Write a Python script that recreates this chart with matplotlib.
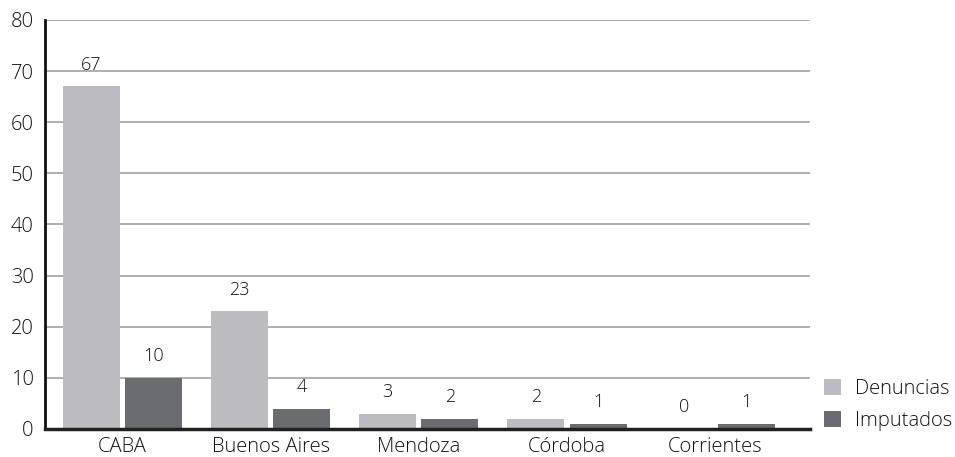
import matplotlib
matplotlib.use("Agg")
import matplotlib.pyplot as plt
import numpy as np

categories = ["CABA", "Buenos Aires", "Mendoza", "Córdoba", "Corrientes"]
denuncias = [67, 23, 3, 2, 0]
imputados = [10, 4, 2, 1, 1]
series_names = ["Denuncias", "Imputados"]
colors = ["#bcbcc0", "#6b6c70"]

plt.rcParams['font.family'] = ['Open Sans', 'DejaVu Sans']
plt.rcParams['font.weight'] = 'light'

fig = plt.figure(figsize=(9.55, 4.57), dpi=100)
ax = fig.add_axes([0.0471, 0.0613, 0.8010, 0.8950])

x = np.arange(len(categories))
w = 0.385
off = 0.21
b1 = ax.bar(x - off, denuncias, w, color=colors[0], label=series_names[0], zorder=3)
b2 = ax.bar(x + off, imputados, w, color=colors[1], label=series_names[1], zorder=3)

txt = "#111111"
for bars, vals in ((b1, denuncias), (b2, imputados)):
    for r, v in zip(bars, vals):
        ax.annotate(str(v), (r.get_x() + r.get_width() / 2, v),
                    xytext=(0, 9), textcoords="offset points",
                    ha="center", va="bottom", fontsize=13, color=txt)

ax.set_ylim(0, 80)
ax.set_xlim(-0.524, 4.64)
ax.set_yticks(range(0, 81, 10))
ax.set_xticks(x)
ax.set_xticklabels(categories)
ax.tick_params(axis="both", length=0, labelsize=14.5, colors=txt)
ax.tick_params(axis="y", pad=8)
ax.tick_params(axis="x", pad=6)
ax.yaxis.grid(True, color="#a8a8a8", linewidth=1.3, zorder=0)
ax.set_axisbelow(True)
for s in ("top", "right"):
    ax.spines[s].set_visible(False)
ax.spines["left"].set_linewidth(2)
ax.spines["bottom"].set_linewidth(2.5)
ax.spines["left"].set_color("#111111")
ax.spines["bottom"].set_color("#222222")
ax.spines["bottom"].set_zorder(4)

leg = ax.legend(loc="lower left", bbox_to_anchor=(1.0, -0.04), frameon=False,
                fontsize=14.5, handlelength=0.85, handleheight=0.85, handletextpad=0.7,
                labelspacing=0.6, borderaxespad=0.3)
for t in leg.get_texts():
    t.set_color(txt)

fig.savefig("out.png", dpi=100)
